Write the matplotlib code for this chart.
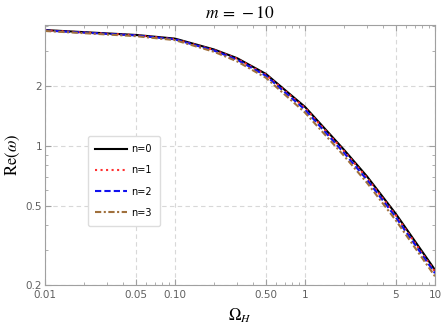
import matplotlib
matplotlib.use('Agg')
import matplotlib.pyplot as plt
from matplotlib.ticker import FixedLocator, NullFormatter

plt.rcParams['mathtext.fontset'] = 'stix'

omega_h = [0.01, 0.05, 0.1, 0.2, 0.3, 0.5, 1, 2, 3, 5, 10]
re_n0 = [3.82, 3.61, 3.46, 3.05, 2.76, 2.30, 1.57, 0.954, 0.702, 0.455, 0.238]
re_n1 = [3.81, 3.60, 3.44, 3.03, 2.74, 2.28, 1.55, 0.940, 0.690, 0.447, 0.233]
re_n2 = [3.80, 3.59, 3.43, 3.01, 2.71, 2.25, 1.52, 0.920, 0.675, 0.437, 0.229]
re_n3 = [3.78, 3.56, 3.40, 2.97, 2.66, 2.20, 1.47, 0.890, 0.652, 0.422, 0.221]

x_ticks = [0.01, 0.05, 0.1, 0.5, 1, 5, 10]
x_labels = ['0.01', '0.05', '0.10', '0.50', '1', '5', '10']
y_ticks = [0.2, 0.5, 1, 2]
y_labels = ['0.2', '0.5', '1', '2']

fig = plt.figure(figsize=(4.43, 3.32), dpi=100)
ax = fig.add_axes([0.1016, 0.1416, 0.8804, 0.7831])

ax.plot(omega_h, re_n0, color='black', lw=1.5, ls='-', label='n=0')
ax.plot(omega_h, re_n1, color='#ff3030', lw=1.5, ls=':', label='n=1')
ax.plot(omega_h, re_n2, color='#1010ee', lw=1.5, ls='--', dashes=(3, 1.5), label='n=2')
ax.plot(omega_h, re_n3, color='#a0703c', lw=1.5, ls='-.', dashes=(3, 1.2, 1, 1.2), label='n=3')

ax.set_xscale('log')
ax.set_yscale('log')
ax.set_xlim(0.01, 10)
ax.set_ylim(0.2, 4.05)

ax.xaxis.set_major_locator(FixedLocator(x_ticks))
ax.set_xticklabels(x_labels)
ax.yaxis.set_major_locator(FixedLocator(y_ticks))
ax.set_yticklabels(y_labels)
ax.xaxis.set_minor_formatter(NullFormatter())
ax.yaxis.set_minor_formatter(NullFormatter())

ax.grid(True, which='major', ls=(0, (4, 3)), color='#d8d8d8', lw=0.8)
for s in ax.spines.values():
    s.set_color('#a0a0a0')
ax.tick_params(which='both', direction='in', top=True, right=True,
               color='#a0a0a0', labelcolor='#606060', labelsize=7.5)
ax.tick_params(axis='x', pad=3.5)
ax.tick_params(axis='y', pad=2)
ax.tick_params(which='major', length=4)
ax.tick_params(which='minor', length=2)

ax.set_title(r'$m\,=\,-10$', fontsize=12.5, pad=5)
ax.set_xlabel(r'$\Omega_H$', fontsize=12, labelpad=5)
ax.set_ylabel(r'$\mathrm{Re}(\omega)$', fontsize=12, labelpad=3)

leg = ax.legend(loc='upper left', bbox_to_anchor=(0.097, 0.59), fontsize=7,
                handlelength=3.2, labelspacing=1.15, borderpad=0.8,
                handletextpad=0.5, fancybox=True, framealpha=1,
                edgecolor='#dddddd')

fig.savefig('out.png', dpi=100)
